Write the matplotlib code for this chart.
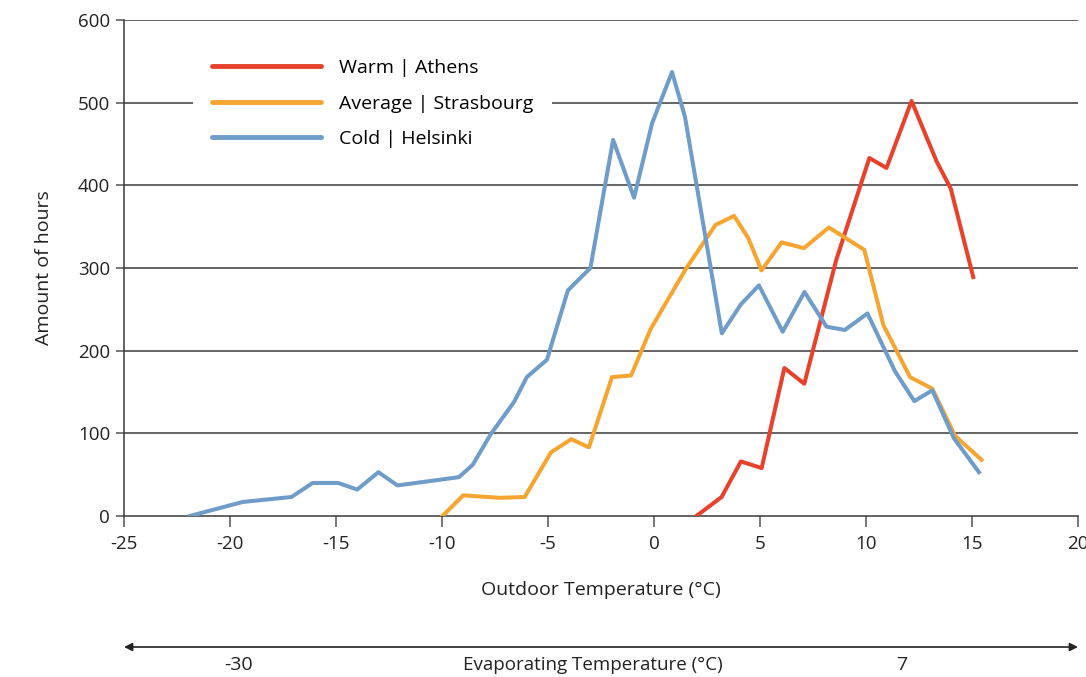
import numpy as np
import matplotlib.pyplot as plt

plt.rcParams['font.family'] = ['Open Sans', 'DejaVu Sans']

# Cold | Helsinki
cold_t = [-21.9, -19.4, -17.1, -16.1, -14.9, -14.0, -13.0, -12.1, -9.2, -8.55, -7.7, -6.6,
          -6.0, -5.05, -4.06, -3.0, -1.93, -0.94, -0.09, 0.85, 1.46, 3.2, 4.1, 4.95,
          6.07, 7.1, 8.14, 9.0, 10.07, 11.37, 12.28, 13.13, 14.15, 15.33]
cold_h = [0, 17, 23, 40, 40, 32, 53, 37, 47, 62, 99, 138,
          168, 189, 273, 300, 455, 385, 475, 537, 483, 221, 256, 279,
          223, 271, 229, 225, 245, 175, 139, 152, 94, 53]

# Average | Strasbourg
avg_t = [-9.98, -9.0, -7.26, -6.1, -4.86, -3.9, -3.07, -1.98, -1.08, -0.16, 0.91, 1.53,
         2.9, 3.78, 4.45, 5.07, 6.02, 7.07, 8.25, 9.92, 10.82, 12.08, 13.13, 14.2, 15.45]
avg_h = [0, 25, 22, 23, 77, 93, 83, 168, 170, 226, 273, 300,
         352, 363, 336, 297, 331, 324, 349, 322, 231, 168, 154, 97, 68]

# Warm | Athens
warm_t = [2.0, 3.19, 4.1, 5.08, 6.15, 7.09, 8.6, 10.16, 10.97, 12.15, 13.33, 14.0, 15.06]
warm_h = [0, 23, 66, 58, 179, 160, 310, 433, 421, 502, 429, 396, 289]

xticks = [-25, -20, -15, -10, -5, 0, 5, 10, 15, 20]
yticks = [0, 100, 200, 300, 400, 500, 600]

fig = plt.figure(figsize=(10.86, 6.77), dpi=100)
ax = fig.add_axes([0.1142, 0.2378, 0.8784, 0.7327])

for y in yticks[1:]:
    ax.axhline(y, color='#3a3a3a', lw=1.1, zorder=1)

ax.plot(warm_t, warm_h, color='#E8412C', lw=2.9, label='Warm | Athens', zorder=3)
ax.plot(avg_t, avg_h, color='#F7A531', lw=2.9, label='Average | Strasbourg', zorder=3)
ax.plot(cold_t, cold_h, color='#6F9CC9', lw=2.9, label='Cold | Helsinki', zorder=3)

ax.set_xlim(-25, 20)
ax.set_ylim(0, 600)
ax.set_xticks(xticks)
ax.set_xticklabels([str(t) for t in xticks])
ax.set_yticks(yticks)

for s in ['top', 'right']:
    ax.spines[s].set_visible(False)
for s in ['left', 'bottom']:
    ax.spines[s].set_color('#3a3a3a')
    ax.spines[s].set_linewidth(1.1)
ax.tick_params(axis='x', length=8, width=1.1, color='#555555', labelsize=13.5, pad=6, labelcolor='#222222')
ax.tick_params(axis='y', length=6, width=1.1, color='#555555', labelsize=13.5, pad=4, labelcolor='#222222')

ax.set_xlabel('Outdoor Temperature (°C)', fontsize=14, labelpad=20, color='#222222')
ax.set_ylabel('Amount of hours', fontsize=14, labelpad=18, color='#222222')

leg = ax.legend(loc='upper left', bbox_to_anchor=(0.062, 0.98), fontsize=14, handlelength=5.6,
                handletextpad=0.9, labelspacing=0.9, frameon=True, facecolor='white',
                edgecolor='none', framealpha=1, borderpad=1.0)
leg.set_zorder(2)
for line in leg.get_lines():
    line.set_solid_capstyle('round')
    line.set_linewidth(3.5)

# evaporating temperature arrow
ax.annotate('', xy=(20, 0.0443), xytext=(-25, 0.0443),
            xycoords=('data', 'figure fraction'), textcoords=('data', 'figure fraction'),
            arrowprops=dict(arrowstyle='<|-|>', color='#222222', lw=1.2, mutation_scale=12,
                            shrinkA=0, shrinkB=0), annotation_clip=False)
ax.annotate('-30', xy=(-19.6, 0.018), xycoords=('data', 'figure fraction'),
            ha='center', va='center', fontsize=14, color='#222222', annotation_clip=False)
ax.annotate('Evaporating Temperature (°C)', xy=(-2.9, 0.018), xycoords=('data', 'figure fraction'),
            ha='center', va='center', fontsize=13.5, color='#222222', annotation_clip=False)
ax.annotate('7', xy=(11.7, 0.018), xycoords=('data', 'figure fraction'),
            ha='center', va='center', fontsize=14, color='#222222', annotation_clip=False)

fig.savefig('out.png', dpi=100)
